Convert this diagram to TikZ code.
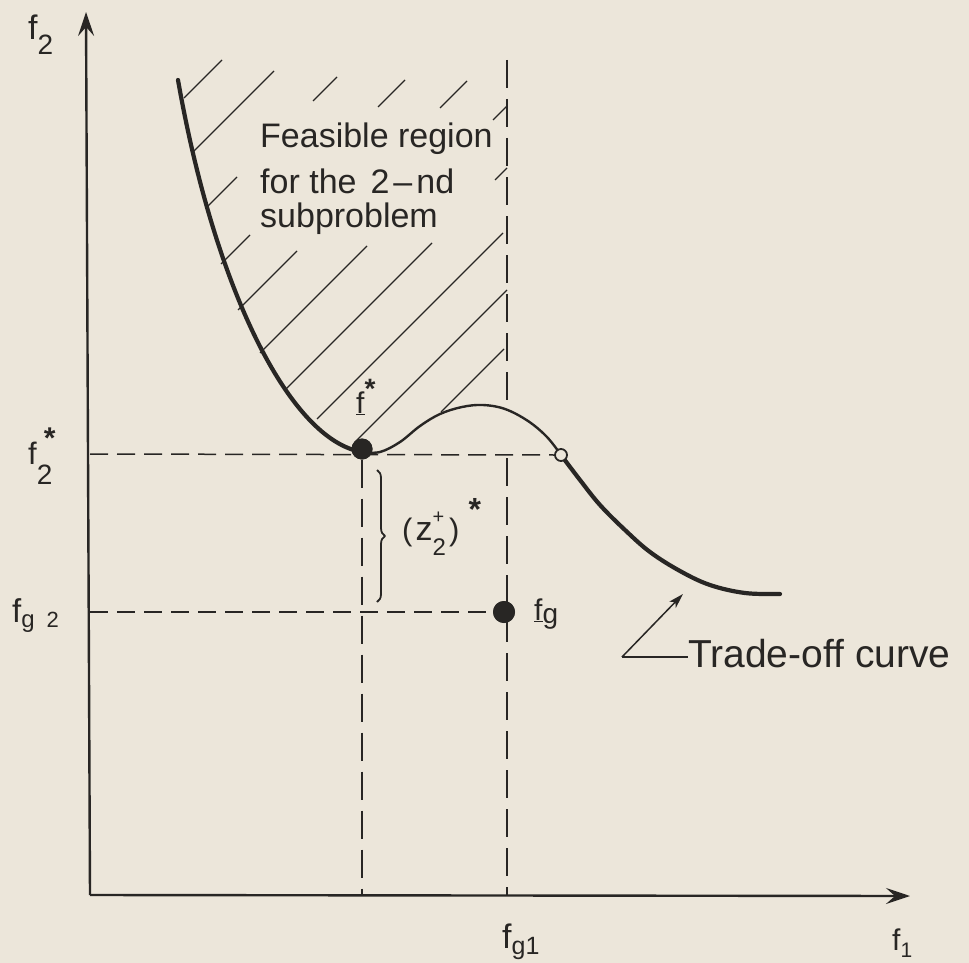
\documentclass[tikz,border=0pt]{standalone}
\usepackage{fontspec}
\setmainfont{Liberation Sans}
\usetikzlibrary{arrows.meta,decorations.pathreplacing}
\definecolor{bg}{RGB}{236,230,218}
\definecolor{ink}{RGB}{40,38,36}
\newcommand\fs[1]{\fontsize{#1}{#1}\selectfont}
\begin{document}
\begin{tikzpicture}[x=1pt,y=-1pt,line join=round,
  axis/.style={draw=ink,line width=2.4pt,-{Stealth[length=24pt,width=16pt,inset=9pt]}},
  guide/.style={draw=ink,line width=1.5pt,dash pattern=on 18pt off 9pt},
  vguide/.style={draw=ink,line width=1.5pt,dash pattern=on 28pt off 11pt},
  hatch/.style={draw=ink,line width=1.3pt},
  thickcurve/.style={draw=ink,line width=4.2pt,line cap=round},
  thincurve/.style={draw=ink,line width=2.4pt},
  lbl/.style={inner sep=0pt,anchor=base west,text=ink},
  dot/.style={circle,fill=ink,inner sep=0pt},
]
\fill[bg] (0,0) rectangle (969,963);
\useasboundingbox (0,0) rectangle (969,963);

% axes
\coordinate (O) at (90,895);
\coordinate (ytop) at (86,12);
\coordinate (xend) at (910,896);
\draw[axis] (O) -- (ytop);
\draw[axis] (O) -- (xend);

% hatching
\foreach \a/\b/\c/\d in {184/98/222/60, 193/152/274/71, 206/208/237/177, 313/101/337/77,
  221/264/250/235, 378/107/405/80, 238/310/297/251, 440/108/467/81, 260/353/367/246,
  493/120/507/106, 285/390/432/243, 495/180/507/168, 317/419/503/233, 355/442/507/290,
  441/412/504/349}
  {\draw[hatch] (\a,\b) -- (\c,\d);}

% points
\node[dot,minimum size=21pt] (fstar) at (362,449) {};
\node[dot,minimum size=22pt] (fg) at (504,612) {};
\node[circle,inner sep=0pt,minimum size=12pt] (oc) at (561,455) {};

% guide lines
\coordinate (a2s) at (90,454);
\coordinate (a2g) at (90,612);
\coordinate (b1s) at (362,895);
\coordinate (vtop) at (507,60);
\coordinate (vhump) at (507,409);
\coordinate (vmid) at (507,458);
\coordinate (vbot) at (507,895);
\draw[guide] (a2s) -- (oc.west);
\draw[guide] (a2g) -- (fg.west);
\draw[vguide] (fstar.south) -- (b1s);
\draw[vguide] (vtop) -- (vhump);
\draw[vguide] (vmid) -- (vbot);

% trade-off curve
\draw[thickcurve] (178,80) .. controls (215,290) and (290,440) .. (362,452);
\draw[thincurve] plot[smooth,tension=0.6] coordinates {(362,452) (380,452) (400,442) (420,426) (440,414) (462,407) (483,405) (505,409) (528,421) (547,437) (561,455)};
\draw[thickcurve] plot[smooth,tension=0.6] coordinates {(561,455) (580,480) (600,505) (625,530) (650,552) (680,571) (710,585) (745,593) (780,594)};

% redraw dots on top
\node[dot,minimum size=21pt] at (fstar) {};
\node[dot,minimum size=22pt] at (fg) {};
\node[circle,draw=ink,fill=bg,line width=1.8pt,inner sep=0pt,minimum size=12pt] at (oc) {};

% brace
\coordinate (br1) at (377,470);
\coordinate (br2) at (377,602);
\draw[draw=ink,line width=1.8pt,decorate,decoration={brace,amplitude=8pt}] (br1) -- (br2);

% trade-off annotation
\coordinate (tk) at (622,657);
\coordinate (tt) at (683,594);
\node[lbl] (toff) at (688,667) {\fs{39}Trade-off curve};
\draw[draw=ink,line width=1.5pt,-{Stealth[length=15pt,width=9pt,inset=4pt]}] (tk) -- (tt);
\draw[draw=ink,line width=1.5pt] (tk) -- (toff.base west |- tk);

% region text
\node[lbl] (t1) at (260,148) {\fs{34}Feasible region};
\node[lbl] (t2) at (260,193) {\fs{34}for the\hspace{14pt}2\hspace{4pt}–\hspace{4pt}nd};
\node[lbl] (t3) at (260,227) {\fs{34}subproblem};

% labels
\node[lbl] (lf2) at (28,40) {\fs{34}f\raisebox{-15pt}{\fs{28}2}};
\node[lbl] (lf2s) at (28,464) {\fs{31}f\rlap{\raisebox{-20pt}{\fs{28}2}}\hspace{7pt}\raisebox{16pt}{\fs{30}\bfseries *}};
\node[lbl] (lfg2) at (12,622) {\fs{33}f\raisebox{-5pt}{\fs{24}g\hspace{12pt}\fs{22}2}};
\node[lbl] (lfg1) at (502,948) {\fs{34}f\raisebox{-6pt}{\fs{25}g1}};
\node[lbl] (lf1) at (892,950) {\fs{30}f\raisebox{-7pt}{\fs{21}1}};
\node[lbl] (lfgv) at (534,620) {\fs{30}\underline{f}\raisebox{-3pt}{\fs{28}g}};
\node[lbl] (lfs) at (356,413) {\fs{30}\underline{f}\raisebox{15pt}{\fs{28}\bfseries *}};
\node[lbl] (lz) at (402,540) {\fs{31}(\hspace{3pt}\fs{34}z\rlap{\raisebox{-15pt}{\fs{24}2}}\raisebox{17pt}{\fs{20}+}\hspace{5pt}\fs{31})\hspace{9pt}\raisebox{20pt}{\fs{32}\bfseries *}};
\end{tikzpicture}
\end{document}
